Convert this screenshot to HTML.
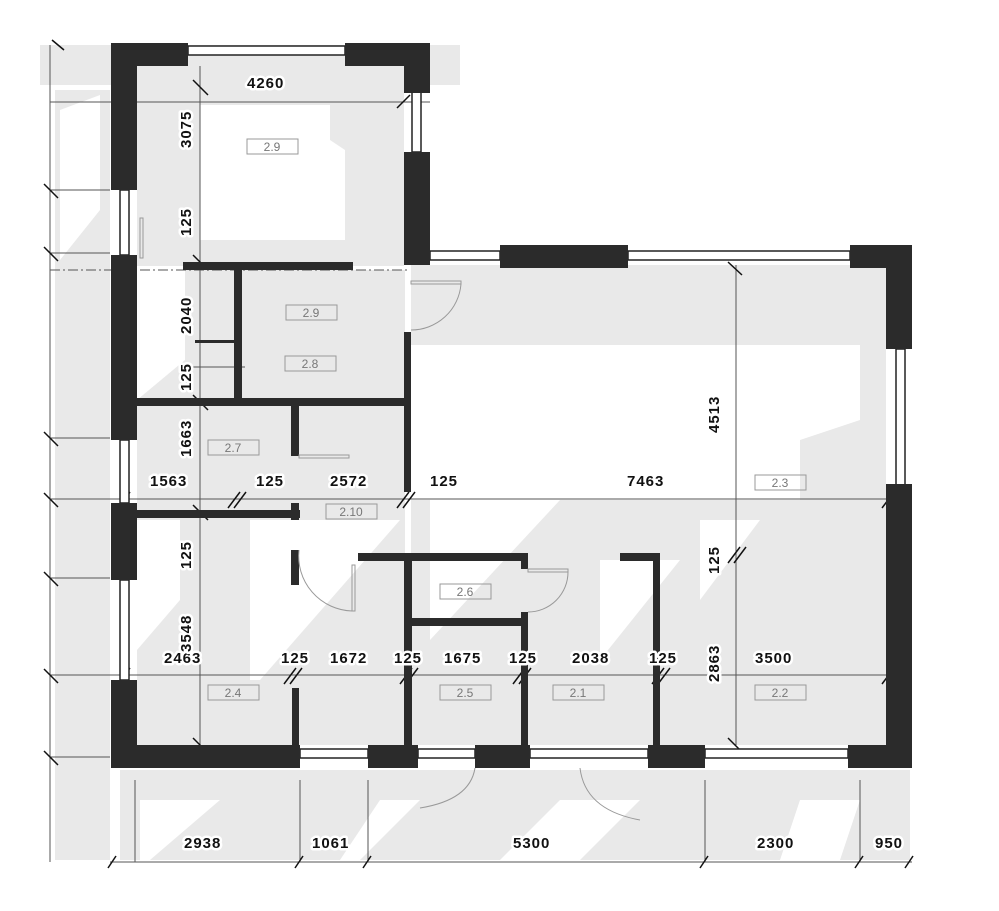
<!DOCTYPE html>
<html><head><meta charset="utf-8"><style>
html,body{margin:0;padding:0;background:#fff}
svg{display:block}
.t{font-family:"Liberation Sans",sans-serif;font-weight:bold;font-size:15px;letter-spacing:1px;fill:#111;stroke:#fff;stroke-width:5px;paint-order:stroke;stroke-linejoin:round}
.r{font-family:"Liberation Sans",sans-serif;font-size:12px;fill:#777}
</style></head><body>
<svg width="999" height="911" viewBox="0 0 999 911" xmlns="http://www.w3.org/2000/svg">
<g fill="#e9e9e9">
<rect x="40" y="45" width="420" height="40"/>
<rect x="55" y="90" width="55" height="770"/>
<rect x="137" y="66" width="267" height="200"/>
<rect x="137" y="270" width="268" height="475"/>
<rect x="411" y="265" width="475" height="80"/>
<rect x="720" y="345" width="166" height="400"/>
<rect x="411" y="345" width="320" height="400"/>
<rect x="120" y="770" width="790" height="90"/>
</g>
<g fill="#fff">
<polygon points="200,105 330,105 330,140 345,150 345,240 200,240"/>
<polygon points="137,270 185,270 185,360 137,400"/>
<polygon points="411,345 860,345 860,420 800,440 800,500 411,500"/>
<polygon points="137,520 180,520 180,600 137,650"/>
<polygon points="250,520 400,520 260,680 250,680"/>
<polygon points="600,560 680,560 600,660"/>
<polygon points="430,500 560,500 430,640"/>
<polygon points="700,520 760,520 700,600"/>
<polygon points="60,110 100,95 100,210 60,260"/>
<polygon points="140,800 220,800 150,860 140,860"/>
<polygon points="380,800 420,800 360,860 340,860"/>
<polygon points="560,800 640,800 580,860 500,860"/>
<polygon points="800,800 860,800 840,860 780,860"/>
</g>
<g stroke="#555" stroke-width="1" fill="none">
<line x1="50" y1="45" x2="50" y2="862"/>
<line x1="50" y1="102" x2="430" y2="102"/>
<line x1="50" y1="270" x2="410" y2="270" stroke-dasharray="10,3,2,3"/>
<line x1="50" y1="499" x2="912" y2="499"/>
<line x1="50" y1="675" x2="912" y2="675"/>
<line x1="110" y1="862" x2="912" y2="862"/>
<line x1="200" y1="66" x2="200" y2="745"/>
<line x1="736" y1="265" x2="736" y2="745"/>
<line x1="50" y1="190" x2="110" y2="190"/><line x1="50" y1="253" x2="110" y2="253"/><line x1="50" y1="438" x2="110" y2="438"/><line x1="50" y1="578" x2="110" y2="578"/><line x1="50" y1="757" x2="110" y2="757"/>
<line x1="135" y1="780" x2="135" y2="862"/><line x1="300" y1="780" x2="300" y2="862"/><line x1="368" y1="780" x2="368" y2="862"/><line x1="705" y1="780" x2="705" y2="862"/><line x1="860" y1="780" x2="860" y2="862"/>
<line x1="193" y1="367" x2="245" y2="367"/>
</g>
<g stroke="#111" stroke-width="1.5">
<line x1="52" y1="40" x2="64" y2="50"/><line x1="44" y1="184" x2="58" y2="198"/><line x1="44" y1="247" x2="58" y2="261"/><line x1="44" y1="432" x2="58" y2="446"/><line x1="44" y1="493" x2="58" y2="507"/><line x1="44" y1="572" x2="58" y2="586"/><line x1="44" y1="669" x2="58" y2="683"/><line x1="44" y1="751" x2="58" y2="765"/>
<line x1="193" y1="80" x2="208" y2="95"/><line x1="124" y1="110" x2="136" y2="96"/><line x1="397" y1="108" x2="410" y2="95"/>
<line x1="193" y1="255" x2="208" y2="270"/><line x1="193" y1="395" x2="208" y2="410"/><line x1="193" y1="505" x2="208" y2="520"/><line x1="193" y1="738" x2="208" y2="753"/>
<line x1="118" y1="508" x2="130" y2="492"/><line x1="118" y1="683" x2="130" y2="668"/>
<line x1="228" y1="508" x2="240" y2="492"/><line x1="234" y1="508" x2="246" y2="492"/>
<line x1="397" y1="508" x2="409" y2="492"/><line x1="403" y1="508" x2="415" y2="492"/>
<line x1="284" y1="684" x2="296" y2="668"/><line x1="290" y1="684" x2="302" y2="668"/>
<line x1="400" y1="684" x2="412" y2="668"/><line x1="406" y1="684" x2="418" y2="668"/>
<line x1="513" y1="684" x2="525" y2="668"/><line x1="519" y1="684" x2="531" y2="668"/>
<line x1="652" y1="684" x2="664" y2="668"/><line x1="658" y1="684" x2="670" y2="668"/>
<line x1="728" y1="563" x2="740" y2="547"/><line x1="734" y1="563" x2="746" y2="547"/>
<line x1="728" y1="262" x2="742" y2="275"/><line x1="728" y1="738" x2="742" y2="752"/>
<line x1="882" y1="508" x2="894" y2="492"/><line x1="882" y1="684" x2="894" y2="668"/>
<line x1="108" y1="868" x2="116" y2="856"/><line x1="295" y1="868" x2="303" y2="856"/><line x1="363" y1="868" x2="371" y2="856"/><line x1="700" y1="868" x2="708" y2="856"/><line x1="855" y1="868" x2="863" y2="856"/><line x1="905" y1="868" x2="913" y2="856"/>
</g>
<g fill="#fff" stroke="#222" stroke-width="1.5">
<rect x="188" y="46" width="157" height="9"/>
<rect x="412" y="92" width="9" height="60"/>
<rect x="120" y="190" width="9" height="65"/>
<rect x="120" y="440" width="9" height="63"/>
<rect x="120" y="580" width="9" height="100"/>
<rect x="430" y="251" width="70" height="9"/><rect x="628" y="251" width="222" height="9"/>
<rect x="896" y="349" width="9" height="136"/>
<rect x="300" y="749" width="68" height="9"/><rect x="418" y="749" width="57" height="9"/><rect x="530" y="749" width="118" height="9"/><rect x="705" y="749" width="143" height="9"/>
</g>
<g fill="#2b2b2b">
<rect x="111" y="43" width="77" height="23"/><rect x="111" y="43" width="26" height="147"/>
<rect x="345" y="43" width="85" height="23"/><rect x="404" y="43" width="26" height="50"/>
<rect x="404" y="152" width="26" height="113"/>
<rect x="111" y="255" width="26" height="185"/>
<rect x="111" y="503" width="26" height="77"/>
<rect x="111" y="680" width="26" height="88"/>
<rect x="111" y="745" width="189" height="23"/>
<rect x="368" y="745" width="50" height="23"/><rect x="475" y="745" width="55" height="23"/><rect x="648" y="745" width="57" height="23"/><rect x="848" y="745" width="64" height="23"/>
<rect x="500" y="245" width="128" height="23"/>
<rect x="850" y="245" width="62" height="23"/><rect x="886" y="245" width="26" height="104"/>
<rect x="886" y="484" width="26" height="284"/>
<rect x="183" y="262" width="170" height="8"/><rect x="234" y="262" width="8" height="136"/><rect x="195" y="340" width="39" height="3"/>
<rect x="137" y="398" width="268" height="8"/><rect x="291" y="406" width="8" height="50"/>
<rect x="404" y="332" width="7" height="160"/>
<rect x="137" y="510" width="163" height="8"/><rect x="291" y="503" width="8" height="17"/><rect x="291" y="550" width="8" height="35"/>
<rect x="358" y="553" width="170" height="8"/><rect x="404" y="553" width="8" height="192"/><rect x="412" y="618" width="116" height="8"/>
<rect x="521" y="553" width="7" height="16"/><rect x="521" y="612" width="7" height="133"/>
<rect x="620" y="553" width="40" height="8"/><rect x="653" y="553" width="7" height="192"/>
<rect x="292" y="688" width="7" height="57"/>
</g>
<g fill="none" stroke="#999" stroke-width="1">
<rect x="140" y="218" width="3" height="40"/>
<rect x="411" y="281" width="50" height="3"/><path d="M461,284 A50,50 0 0 1 411,330"/>
<rect x="352" y="565" width="3" height="46"/><path d="M299,550 A55,55 0 0 0 352,611"/>
<rect x="528" y="569" width="40" height="3"/><path d="M568,572 A40,40 0 0 1 528,612"/>
<rect x="299" y="455" width="50" height="3"/>
<path d="M475,768 Q470,800 420,808"/><path d="M580,768 Q585,810 640,820"/>
</g>
<g class="t">
<text x="247" y="88">4260</text>
<text x="150" y="486">1563</text><text x="256" y="486">125</text><text x="330" y="486">2572</text><text x="430" y="486">125</text><text x="627" y="486">7463</text>
<text x="164" y="663">2463</text><text x="281" y="663">125</text><text x="330" y="663">1672</text><text x="394" y="663">125</text><text x="444" y="663">1675</text><text x="509" y="663">125</text><text x="572" y="663">2038</text><text x="649" y="663">125</text><text x="755" y="663">3500</text>
<text x="184" y="848">2938</text><text x="312" y="848">1061</text><text x="513" y="848">5300</text><text x="757" y="848">2300</text><text x="875" y="848">950</text>
<text transform="translate(191,148) rotate(-90)">3075</text>
<text transform="translate(191,236) rotate(-90)">125</text>
<text transform="translate(191,334) rotate(-90)">2040</text>
<text transform="translate(191,391) rotate(-90)">125</text>
<text transform="translate(191,457) rotate(-90)">1663</text>
<text transform="translate(191,569) rotate(-90)">125</text>
<text transform="translate(191,652) rotate(-90)">3548</text>
<text transform="translate(719,433) rotate(-90)">4513</text>
<text transform="translate(719,574) rotate(-90)">125</text>
<text transform="translate(719,682) rotate(-90)">2863</text>
</g>
<g stroke="#999" fill="none" stroke-width="1">
<rect x="247" y="139" width="51" height="15"/><rect x="286" y="305" width="51" height="15"/><rect x="285" y="356" width="51" height="15"/>
<rect x="208" y="440" width="51" height="15"/><rect x="326" y="504" width="51" height="15"/><rect x="755" y="475" width="51" height="15"/>
<rect x="440" y="584" width="51" height="15"/><rect x="208" y="685" width="51" height="15"/><rect x="440" y="685" width="51" height="15"/><rect x="553" y="685" width="51" height="15"/><rect x="755" y="685" width="51" height="15"/>
</g>
<g class="r" text-anchor="middle">
<text x="272" y="151">2.9</text><text x="311" y="317">2.9</text><text x="310" y="368">2.8</text><text x="233" y="452">2.7</text><text x="351" y="516">2.10</text><text x="780" y="487">2.3</text>
<text x="465" y="596">2.6</text><text x="233" y="697">2.4</text><text x="465" y="697">2.5</text><text x="578" y="697">2.1</text><text x="780" y="697">2.2</text>
</g>
</svg>
</body></html>
